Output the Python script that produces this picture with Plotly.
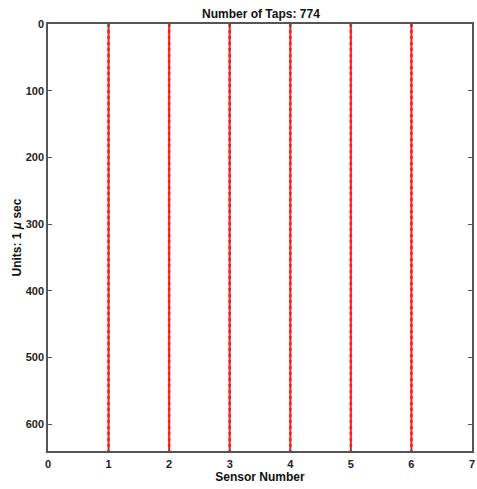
import plotly.graph_objects as go

sensors = [1, 2, 3, 4, 5, 6]
tap_start = [0, 0, 0, 0, 0, 0]
tap_end = [640, 640, 640, 640, 640, 640]
x_ticks = [0, 1, 2, 3, 4, 5, 6, 7]
y_ticks = [0, 100, 200, 300, 400, 500, 600]

fig = go.Figure()
for s, a, b in zip(sensors, tap_start, tap_end):
    fig.add_trace(go.Scatter(
        x=[s, s], y=[a, b], mode="lines",
        line=dict(color="#ff0000", width=2.5, dash="dot"),
        showlegend=False, hoverinfo="skip"))
    fig.add_trace(go.Scatter(
        x=[s, s], y=[a, b], mode="lines",
        line=dict(color="#ff2020", width=2),
        showlegend=False, hoverinfo="skip"))

fam = "Liberation Sans, Arial, sans-serif"
axis_common = dict(showgrid=False, zeroline=False, showline=True, linecolor="#555",
                   linewidth=1.5, mirror="ticks", ticks="inside", ticklen=4,
                   tickcolor="#555", tickfont=dict(family=fam, size=11, color="#222"))

fig.update_layout(
    width=477, height=489,
    margin=dict(l=48, r=3, t=24, b=38),
    paper_bgcolor="white", plot_bgcolor="white",
    title=dict(text="<b>Number of Taps: 774</b>", x=0.547, xanchor="center",
               y=0.98, yanchor="top",
               font=dict(family=fam, size=12, color="#111")),
    xaxis=dict(range=[0, 7], tickvals=x_ticks,
               ticktext=[f"<b>{v}</b>" for v in x_ticks],
               ticklabelstandoff=2,
               title=dict(text="<b>Sensor Number</b>", standoff=4,
                          font=dict(family=fam, size=12, color="#111")),
               **axis_common),
    yaxis=dict(range=[640, 0], tickvals=y_ticks,
               ticktext=[f"<b>{v}</b>" for v in y_ticks],
               ticklabelstandoff=0,
               **axis_common),
    annotations=[dict(text="<b>Units: 1 <i>μ</i> sec</b>", xref="paper", yref="paper",
                      x=0, y=0.5, xanchor="center", yanchor="middle",
                      xshift=-32, textangle=-90, showarrow=False,
                      font=dict(family=fam, size=12, color="#111"))],
)

fig.write_html("out.html")
